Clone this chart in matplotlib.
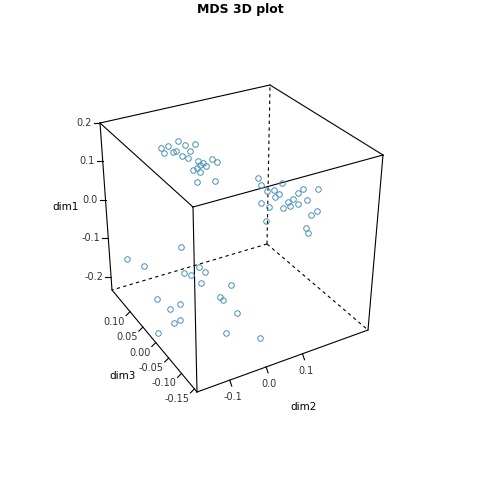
import numpy as np
import matplotlib
matplotlib.use("Agg")
import matplotlib.pyplot as plt

# MDS coordinates (dim1 vertical, dim2 right, dim3 depth)
dim2 = [-0.081, -0.062, -0.049, -0.033, -0.015, -0.002, 0.012, -0.039, -0.023, -0.007,
        0.020, 0.025, 0.033, 0.017, 0.006, 0.041, 0.059, 0.072, 0.014, 0.064, 0.025, -0.073,
        0.102, 0.112, 0.128, 0.147, 0.168, 0.160, 0.186, 0.200, 0.213, 0.226, 0.266, 0.112,
        0.134, 0.173, 0.192, 0.213, 0.239, 0.252, 0.266, 0.239, 0.244, 0.126, 0.149,
        -0.190, -0.164, -0.132, -0.161, -0.167, -0.161, -0.179, -0.190, -0.153, -0.148, -0.129,
        -0.090, -0.106, -0.103, -0.050, -0.042, -0.021, -0.005, -0.086, 0.007]
dim3 = [0.10] * 22 + [0.005] * 23 + \
       [0.10, 0.07, 0.07, -0.06, -0.028, -0.06, -0.06, -0.011, -0.06, -0.06, -0.06,
        -0.06, -0.06, -0.06, -0.06, -0.06, -0.06, -0.06, -0.127, -0.127]
dim1 = [0.158, 0.157, 0.140, 0.164, 0.149, 0.130, 0.145, 0.139, 0.124, 0.114,
        0.101, 0.087, 0.092, 0.082, 0.081, 0.082, 0.096, 0.084, 0.047, 0.038, 0.070, 0.143,
        0.096, 0.076, 0.055, 0.054, 0.066, 0.039, 0.012, 0.015, 0.027, 0.035, 0.025, 0.030,
        0.012, 0.000, 0.001, -0.001, 0.003, -0.040, -0.033, -0.071, -0.084, -0.020, 0.035,
        -0.100, -0.102, -0.196, -0.104, -0.137, -0.143, -0.146, -0.204, 0.032, -0.034, -0.044,
        -0.046, -0.029, -0.069, -0.120, -0.129, -0.098, -0.172, -0.150, -0.191]

lim2 = (-0.19, 0.28)
lim3 = (-0.16, 0.17)
lim1 = (-0.235, 0.20)
ticks1 = [-0.2, -0.1, 0.0, 0.1, 0.2]
ticks2 = [-0.1, 0.0, 0.1]
ticks3 = [-0.15, -0.10, -0.05, 0.00, 0.05, 0.10]

# screen corners of the box (pixels): [u][v] -> bottom / top
BOT = {(0, 0): (197, 392), (1, 0): (368, 330), (0, 1): (112, 290), (1, 1): (267, 244)}
TOP = {(0, 0): (193, 207), (1, 0): (383, 155), (0, 1): (100, 123), (1, 1): (270, 85)}


def bil(c, u, v):
    p = (np.array(c[(0, 0)]) * (1 - u) * (1 - v) + np.array(c[(1, 0)]) * u * (1 - v)
         + np.array(c[(0, 1)]) * (1 - u) * v + np.array(c[(1, 1)]) * u * v)
    return p


def proj(d2, d3, d1):
    u = (d2 - lim2[0]) / (lim2[1] - lim2[0])
    v = (d3 - lim3[0]) / (lim3[1] - lim3[0])
    w = (d1 - lim1[0]) / (lim1[1] - lim1[0])
    b = bil(BOT, u, v)
    t = bil(TOP, u, v)
    return b + w * (t - b)


fig = plt.figure(figsize=(4.8, 4.8), dpi=100)
ax = fig.add_axes([0, 0, 1, 1])
ax.set_xlim(0, 480)
ax.set_ylim(480, 0)
ax.axis("off")

def seg(a, b, **kw):
    ax.plot([a[0], b[0]], [a[1], b[1]], color="black", lw=0.8, **kw)

# hidden edges
seg(BOT[(1, 1)], TOP[(1, 1)], ls=(0, (3, 3)))
seg(BOT[(1, 1)], BOT[(0, 1)], ls=(0, (3, 3)))
seg(BOT[(1, 1)], BOT[(1, 0)], ls=(0, (3, 3)))
# visible edges
seg(BOT[(0, 0)], TOP[(0, 0)])
seg(BOT[(1, 0)], TOP[(1, 0)])
seg(BOT[(0, 1)], TOP[(0, 1)])
seg(BOT[(0, 0)], BOT[(1, 0)])
seg(BOT[(0, 0)], BOT[(0, 1)])
for a, b in [((0, 0), (1, 0)), ((1, 0), (1, 1)), ((1, 1), (0, 1)), ((0, 1), (0, 0))]:
    seg(TOP[a], TOP[b])

fs = 7
grey = "#333333"
# dim1 ticks (left back edge)
for t in ticks1:
    p = proj(lim2[0], lim3[1], t)
    seg(p, p + np.array([-6, 0]))
    ax.text(p[0] - 8, p[1], f"{t:.1f}", ha="right", va="center", fontsize=fs, color=grey)
# dim3 ticks (left bottom edge)
for t in ticks3:
    p = proj(lim2[0], t, lim1[0])
    seg(p, p + np.array([-4, 4]))
    ax.text(p[0] - 5, p[1] + 10, f"{t:.2f}", ha="right", va="center", fontsize=fs, color=grey)
# dim2 ticks (front bottom edge)
for t in ticks2:
    p = proj(t, lim3[0], lim1[0])
    seg(p, p + np.array([2, 6]))
    ax.text(p[0] + 3, p[1] + 17, f"{t:.1f}", ha="center", va="center", fontsize=fs, color=grey)

ax.text(66, 207, "dim1", ha="center", va="center", fontsize=7.5)
ax.text(123, 376, "dim3", ha="center", va="center", fontsize=7.5)
ax.text(304, 407, "dim2", ha="center", va="center", fontsize=7.5)
ax.text(240, 10, "MDS 3D plot", ha="center", va="center", fontsize=9, fontweight="bold")

pts = np.array([proj(a, b, c) for a, b, c in zip(dim2, dim3, dim1)])
ax.plot(pts[:, 0], pts[:, 1], "o", ms=4, mfc="none", mec="#4a8fb5", mew=0.7)

fig.savefig("out.png", dpi=100, facecolor="white")
